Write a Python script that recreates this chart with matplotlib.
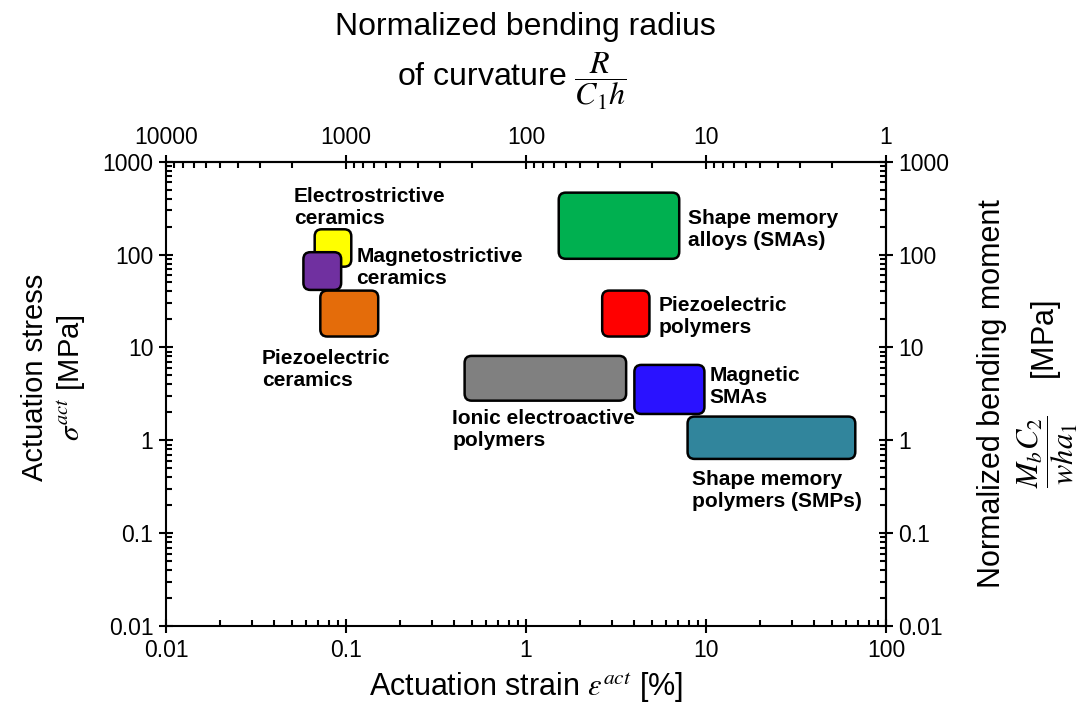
import matplotlib
matplotlib.use("Agg")
import matplotlib.pyplot as plt
from matplotlib.patches import FancyBboxPatch
from matplotlib.ticker import FuncFormatter, NullFormatter, LogLocator, FixedLocator

plt.rcParams['font.family'] = ['Liberation Sans', 'DejaVu Sans']
plt.rcParams['mathtext.fontset'] = 'stix'

# actuator classes: strain range [%] and stress range [MPa]
names = ['Electrostrictive\nceramics', 'Magnetostrictive\nceramics', 'Piezoelectric\nceramics',
         'Shape memory\nalloys (SMAs)', 'Piezoelectric\npolymers', 'Ionic electroactive\npolymers',
         'Magnetic\nSMAs', 'Shape memory\npolymers (SMPs)']
strain_lo = [0.067, 0.058, 0.072, 1.52, 2.65, 0.456, 4.0, 7.9]
strain_hi = [0.107, 0.094, 0.151, 7.1, 4.85, 3.6, 9.8, 67.5]
stress_lo = [74, 41.6, 13.1, 90, 13.1, 2.67, 1.92, 0.63]
stress_hi = [187, 106, 40.9, 464, 40.9, 8.1, 6.48, 1.80]
colors = ['#FFFF00', '#7030A0', '#E46C0A', '#00B050', '#FF0000', '#808080', '#2A12FF', '#31859C']

# label anchors (left edge, vertical centre) in data units
label_x = [0.0513, 0.1143, 0.034, 7.98, 5.44, 0.39, 10.5, 8.41]
label_y = [318, 71.7, 5.8, 186, 21.6, 1.31, 3.76, 0.285]

# major tick values
strain_ticks = [0.01, 0.1, 1, 10, 100]
stress_ticks = [0.01, 0.1, 1, 10, 100, 1000]
radius_ticks = [1, 10, 100, 1000, 10000]

fig = plt.figure(figsize=(10.87, 7.06), dpi=100)
ax = fig.add_axes([0.1527, 0.1133, 0.8151 - 0.1527, 0.771 - 0.1133])
ax.set_xscale('log')
ax.set_yscale('log')
ax.set_xlim(0.01, 100)
ax.set_ylim(0.01, 1000)

fmt = FuncFormatter(lambda v, _: f'{v:g}')

# rounded boxes, drawn in axes fraction so the corners stay round on log axes
to_frac = ax.transScale + ax.transLimits
W = 1087 * (0.8151 - 0.1527)
H = 706 * (0.771 - 0.1133)
r_px = 7
for x0, x1, y0, y1, c in zip(strain_lo, strain_hi, stress_lo, stress_hi, colors):
    fx0, fy0 = to_frac.transform((x0, y0))
    fx1, fy1 = to_frac.transform((x1, y1))
    box = FancyBboxPatch((fx0, fy0), fx1 - fx0, fy1 - fy0,
                         boxstyle=f'round,pad=0,rounding_size={r_px / W}',
                         mutation_aspect=W / H, transform=ax.transAxes,
                         facecolor=c, edgecolor='black', linewidth=1.8, zorder=3)
    ax.add_patch(box)

for name, lx, ly in zip(names, label_x, label_y):
    ax.text(lx, ly, name, ha='left', va='center', fontsize=15, fontweight='bold', zorder=4)

# secondary axes
top = ax.secondary_xaxis('top', functions=(lambda x: 100 / x, lambda x: 100 / x))
right = ax.secondary_yaxis('right', functions=(lambda y: y, lambda y: y))

for a, t in [(ax.xaxis, strain_ticks), (ax.yaxis, stress_ticks),
             (top.xaxis, radius_ticks), (right.yaxis, stress_ticks)]:
    a.set_major_locator(FixedLocator(t))
    a.set_minor_locator(LogLocator(base=10, subs=range(2, 10), numticks=20))
    a.set_major_formatter(fmt)
    a.set_minor_formatter(NullFormatter())

for a in [ax, top, right]:
    a.tick_params(which='major', direction='inout', length=10, width=1.5, labelsize=16.5, pad=4)
    a.tick_params(which='minor', direction='in', length=4.3, width=1.5)
    for s in a.spines.values():
        s.set_linewidth(1.5)

ax.set_xlabel('Actuation strain $\\varepsilon^{act}$ [%]', fontsize=22, labelpad=6)
ax.set_ylabel('Actuation stress\n$\\sigma^{act}$ [MPa]', fontsize=21, linespacing=1.3)
ax.yaxis.set_label_coords(-0.108, 0.535)
fig.text(0.483, 1 - 27 / 706, 'Normalized bending radius', fontsize=23, ha='center', va='center')
fig.text(0.471, 1 - 81 / 706, 'of curvature $\\dfrac{R}{C_1h}$', fontsize=23, ha='center', va='center')
right.set_ylabel('Normalized bending moment\n$\\dfrac{M_bC_2}{wha_1}$    [MPa]', fontsize=22,
                 labelpad=20)

fig.savefig('out.png', dpi=100)
